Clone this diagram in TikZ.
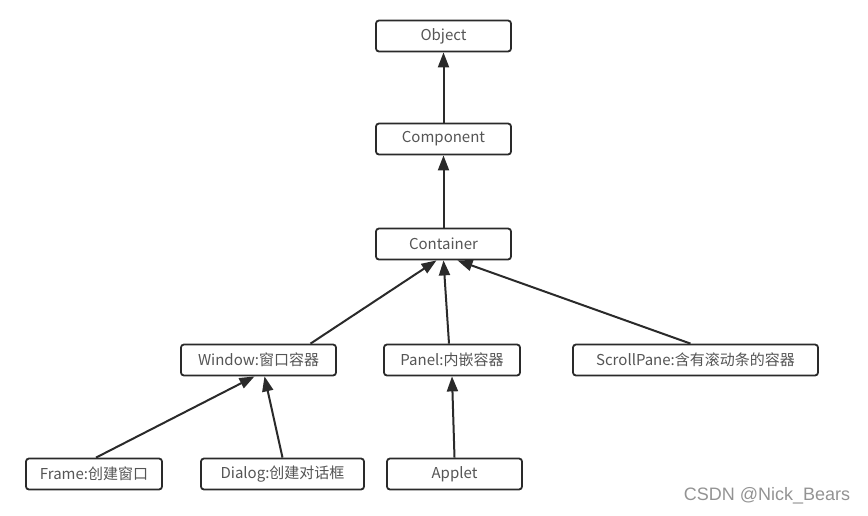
\documentclass[tikz,border=0pt]{standalone}
\usepackage{fontspec}
\setmainfont{Noto Sans CJK SC}
\newfontfamily\wmfont{Liberation Sans}
\usetikzlibrary{arrows.meta}
\definecolor{txt}{HTML}{555555}
\definecolor{edge}{HTML}{2A2A2A}
\begin{document}
\begin{tikzpicture}[x=1pt,y=-1pt,
  cls/.style={draw=edge,line width=1.8pt,rounded corners=3pt,fill=white,
    text=txt,font=\fontsize{15}{17}\selectfont,minimum height=31pt,inner sep=0pt,anchor=center},
  inh/.style={draw=edge,line width=2pt,-{Triangle[length=15pt,width=11pt]}}]
\useasboundingbox (0,0) rectangle (868,515);
\node[cls,minimum width=135pt] (obj) at (443.5,36) {\raisebox{-1pt}{Object}};
\node[cls,minimum width=135pt] (comp) at (443.5,139) {\raisebox{-1pt}{Component}};
\node[cls,minimum width=135pt] (cont) at (443.5,244) {\raisebox{-1pt}{Container}};
\node[cls,minimum width=155pt] (win) at (258.5,360) {\raisebox{-1pt}{Window:窗口容器}};
\node[cls,minimum width=136pt] (pan) at (452,360) {\raisebox{-1pt}{Panel:内嵌容器}};
\node[cls,minimum width=245pt] (scr) at (695.5,360) {\raisebox{-1pt}{ScrollPane:含有滚动条的容器}};
\node[cls,minimum width=136pt] (frm) at (94,474) {\raisebox{-1pt}{Frame:创建窗口}};
\node[cls,minimum width=163pt] (dlg) at (282.5,474) {\raisebox{-1pt}{Dialog:创建对话框}};
\node[cls,minimum width=135pt] (app) at (454.5,474) {\raisebox{-1pt}{Applet}};
\node[text=gray!85,font=\wmfont\fontsize{18}{20}\selectfont] (wm) at (767,496) {CSDN @Nick\_Bears};
\draw[inh] (comp.north) -- (obj.south);
\draw[inh] (cont.north) -- (comp.south);
\draw[inh] ([xshift=52pt]win.north) -- ([xshift=-7pt]cont.south);
\draw[inh] ([xshift=-3pt]pan.north) -- (cont.south);
\draw[inh] ([xshift=-5pt]scr.north) -- ([xshift=14pt]cont.south);
\draw[inh] ([xshift=2pt]frm.north) -- ([xshift=-4pt]win.south);
\draw[inh] ([xshift=0pt]dlg.north) -- ([xshift=6pt]win.south);
\draw[inh] ([xshift=0pt]app.north) -- ([xshift=0pt]pan.south);
\end{tikzpicture}
\end{document}
